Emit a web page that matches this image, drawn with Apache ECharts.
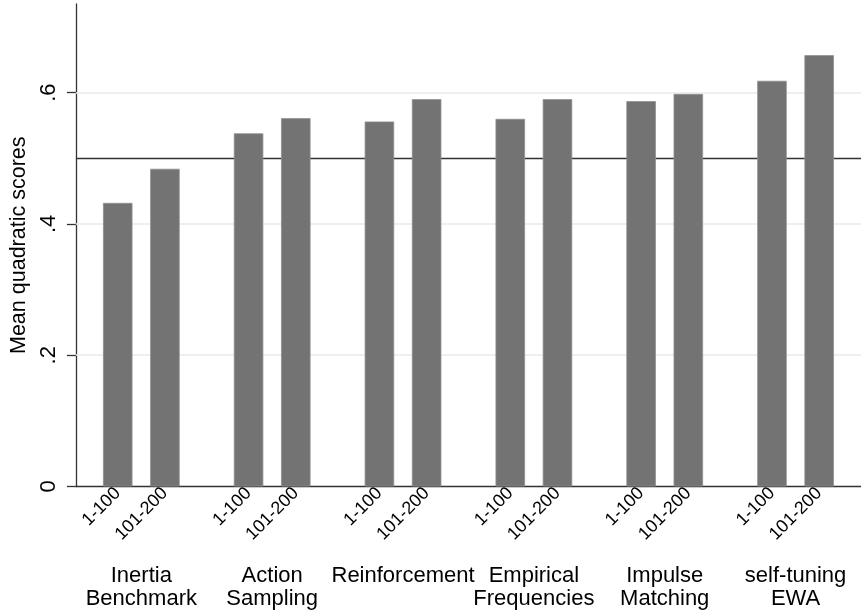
<!DOCTYPE html>
<html>
<head>
<meta charset="utf-8">
<script src="https://cdn.jsdelivr.net/npm/echarts@6/dist/echarts.min.js"></script>
<style>
html,body{margin:0;padding:0;background:#fff;}
#chart{width:861px;height:615px;}
</style>
</head>
<body>
<div id="chart"></div>
<script>
// ---- data ----
var groups = ['Inertia\nBenchmark', 'Action\nSampling', 'Reinforcement', 'Empirical\nFrequencies', 'Impulse\nMatching', 'self-tuning\nEWA'];
var periods = ['1-100', '101-200'];
var scoresFirst = [0.432, 0.538, 0.556, 0.560, 0.587, 0.618];
var scoresSecond = [0.484, 0.561, 0.590, 0.590, 0.598, 0.657];
var yTicks = [0, 0.2, 0.4, 0.6];
var referenceValue = 0.5;
var yMax = 0.735;
var yTitle = 'Mean quadratic scores';

var FONT = '"Liberation Sans", Arial, Helvetica, sans-serif';
var chart = echarts.init(document.getElementById('chart'), null, {renderer: 'canvas'});

function tickText(v) {
  if (Math.abs(v) < 1e-9) return '0';
  return v.toFixed(1).replace(/^0/, '');
}

function barSeries(name, values) {
  return {
    name: name,
    type: 'bar',
    data: values,
    barWidth: 29.5,
    barGap: '60%',
    z: 10,
    itemStyle: {color: '#737373', borderColor: '#8f8f8f', borderWidth: 0.8},
    label: {
      show: true,
      position: 'bottom',
      distance: 4,
      rotate: 45,
      align: 'right',
      verticalAlign: 'middle',
      formatter: function (p) { return p.seriesName; },
      fontFamily: FONT,
      fontSize: 18,
      color: '#000'
    },
    emphasis: {disabled: true},
    animation: false
  };
}

var gridLineData = yTicks.filter(function (v) { return v > 0; }).map(function (v) {
  return {yAxis: v, lineStyle: {color: '#eaeaea', width: 1.5, type: 'solid'}};
});
gridLineData.push({yAxis: referenceValue, lineStyle: {color: '#333333', width: 1.4, type: 'solid'}});

var option = {
  backgroundColor: '#ffffff',
  animation: false,
  textStyle: {fontFamily: FONT},
  grid: {left: 72, top: 4, width: 794, bottom: 128.5, containLabel: false},
  xAxis: {
    type: 'category',
    data: groups,
    axisLine: {show: true, lineStyle: {color: '#333333', width: 1.3}},
    axisTick: {show: false},
    axisLabel: {
      interval: 0,
      margin: 78,
      fontFamily: FONT,
      fontSize: 22,
      lineHeight: 23,
      color: '#000'
    },
    splitLine: {show: false}
  },
  yAxis: {
    type: 'value',
    min: 0,
    max: yMax,
    interval: 0.2,
    name: yTitle,
    nameLocation: 'middle',
    nameGap: 40,
    nameTextStyle: {fontFamily: FONT, fontSize: 21.5, color: '#000'},
    axisLine: {show: true, lineStyle: {color: '#333333', width: 1.3}},
    axisTick: {show: true, length: 9, customValues: yTicks, lineStyle: {color: '#333333', width: 1.3}},
    axisLabel: {
      customValues: yTicks,
      rotate: 90,
      margin: 16,
      fontFamily: FONT,
      fontSize: 22,
      color: '#000',
      formatter: tickText
    },
    splitLine: {show: false}
  },
  series: [
    barSeries(periods[0], scoresFirst),
    barSeries(periods[1], scoresSecond),
    {
      type: 'line',
      data: [],
      z: 1,
      silent: true,
      markLine: {
        silent: true,
        z: 1,
        symbol: 'none',
        label: {show: false},
        animation: false,
        data: gridLineData
      }
    }
  ]
};
chart.setOption(option);
</script>
</body>
</html>
